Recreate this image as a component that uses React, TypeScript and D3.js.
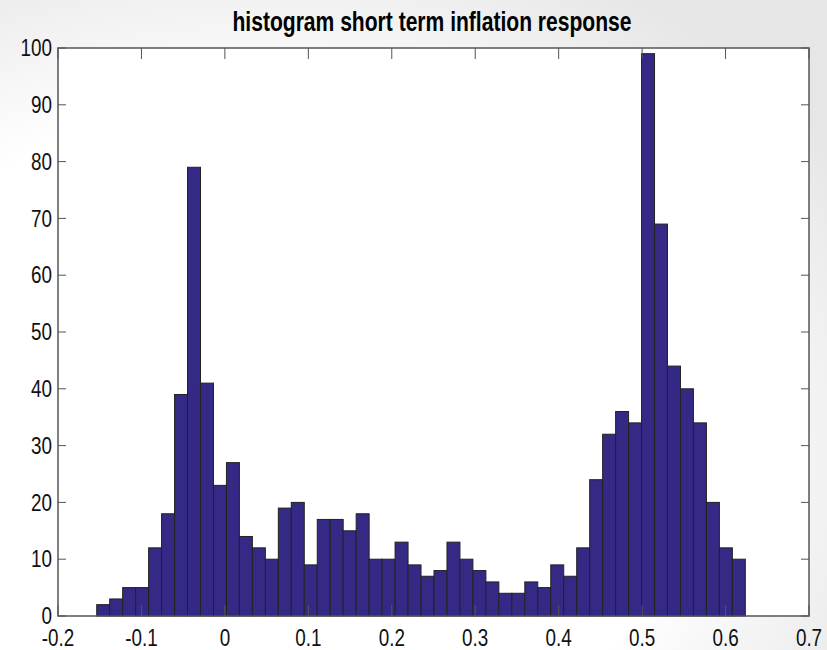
import React from 'react';
import * as d3 from 'd3';

// histogram counts, left to right
const counts = [
  2, 3, 5, 5, 12, 18, 39, 79, 41, 23,
  27, 14, 12, 10, 19, 20, 9, 17, 17, 15,
  18, 10, 10, 13, 9, 7, 8, 13, 10, 8,
  6, 4, 4, 6, 5, 9, 7, 12, 24, 32,
  36, 34, 99, 69, 44, 40, 34, 20, 12, 10,
];
const binStart = -0.1536;
const binEnd = 0.6237;
const xTicks = [-0.2, -0.1, 0, 0.1, 0.2, 0.3, 0.4, 0.5, 0.6, 0.7];
const yTicks = [0, 10, 20, 30, 40, 50, 60, 70, 80, 90, 100];
const title = 'histogram short term inflation response';

const W = 827;
const H = 650;
const margin = { top: 48, right: 18, bottom: 34, left: 58 };
const font = '"Liberation Sans", Arial, sans-serif';
const squeeze = 0.82; // narrow look of the original labels

export default function App() {
  const x = d3.scaleLinear().domain([-0.2, 0.7]).range([margin.left, W - margin.right]);
  const y = d3.scaleLinear().domain([0, 100]).range([H - margin.bottom, margin.top]);
  const bw = (binEnd - binStart) / counts.length;
  const bins = counts.map((c, i) => ({ x0: binStart + i * bw, x1: binStart + (i + 1) * bw, c }));

  const [x0, x1] = x.range();
  const [y0, y1] = y.range();

  return (
    <svg width={W} height={H} style={{ position: 'absolute', left: 0, top: 0 }}>
      <defs>
        <radialGradient id="bg" cx="0.3" cy="0.7" r="0.85">
          <stop offset="0%" stopColor="#ffffff" />
          <stop offset="62%" stopColor="#ffffff" />
          <stop offset="100%" stopColor="#e6e6e6" />
        </radialGradient>
      </defs>
      <rect width={W} height={H} fill="url(#bg)" />
      <rect x={x0} y={y1} width={x1 - x0} height={y0 - y1} fill="#fff" />

      {bins.map((b, i) => (
        <rect key={i}
          x={x(b.x0)} y={y(b.c)}
          width={x(b.x1) - x(b.x0)} height={y(0) - y(b.c)}
          fill="#342a86" stroke="#222" strokeWidth={1} />
      ))}

      <rect x={x0} y={y1} width={x1 - x0} height={y0 - y1} fill="none" stroke="#555" strokeWidth={1.5} />

      {xTicks.map(t => (
        <g key={'x' + t}>
          <line x1={x(t)} x2={x(t)} y1={y0} y2={y0 - 11} stroke="#555" />
          <line x1={x(t)} x2={x(t)} y1={y1} y2={y1 + 11} stroke="#555" />
          <text transform={`translate(${x(t)},${y0 + 30}) scale(${squeeze},1)`} textAnchor="middle"
            fontFamily={font} fontSize={23} fill="#111">
            {String(t)}
          </text>
        </g>
      ))}

      {yTicks.map(t => (
        <g key={'y' + t}>
          <line x1={x0} x2={x0 + 8} y1={y(t)} y2={y(t)} stroke="#555" />
          <line x1={x1} x2={x1 - 8} y1={y(t)} y2={y(t)} stroke="#555" />
          <text transform={`translate(${x0 - 6},${y(t)}) scale(${squeeze},1)`} dy="0.36em" textAnchor="end"
            fontFamily={font} fontSize={23} fill="#111">
            {t}
          </text>
        </g>
      ))}

      <text x={432} y={31} textAnchor="middle" fontFamily={font} fontWeight="bold" fontSize={27}
        textLength={399} lengthAdjust="spacingAndGlyphs" fill="#000">
        {title}
      </text>
    </svg>
  );
}
